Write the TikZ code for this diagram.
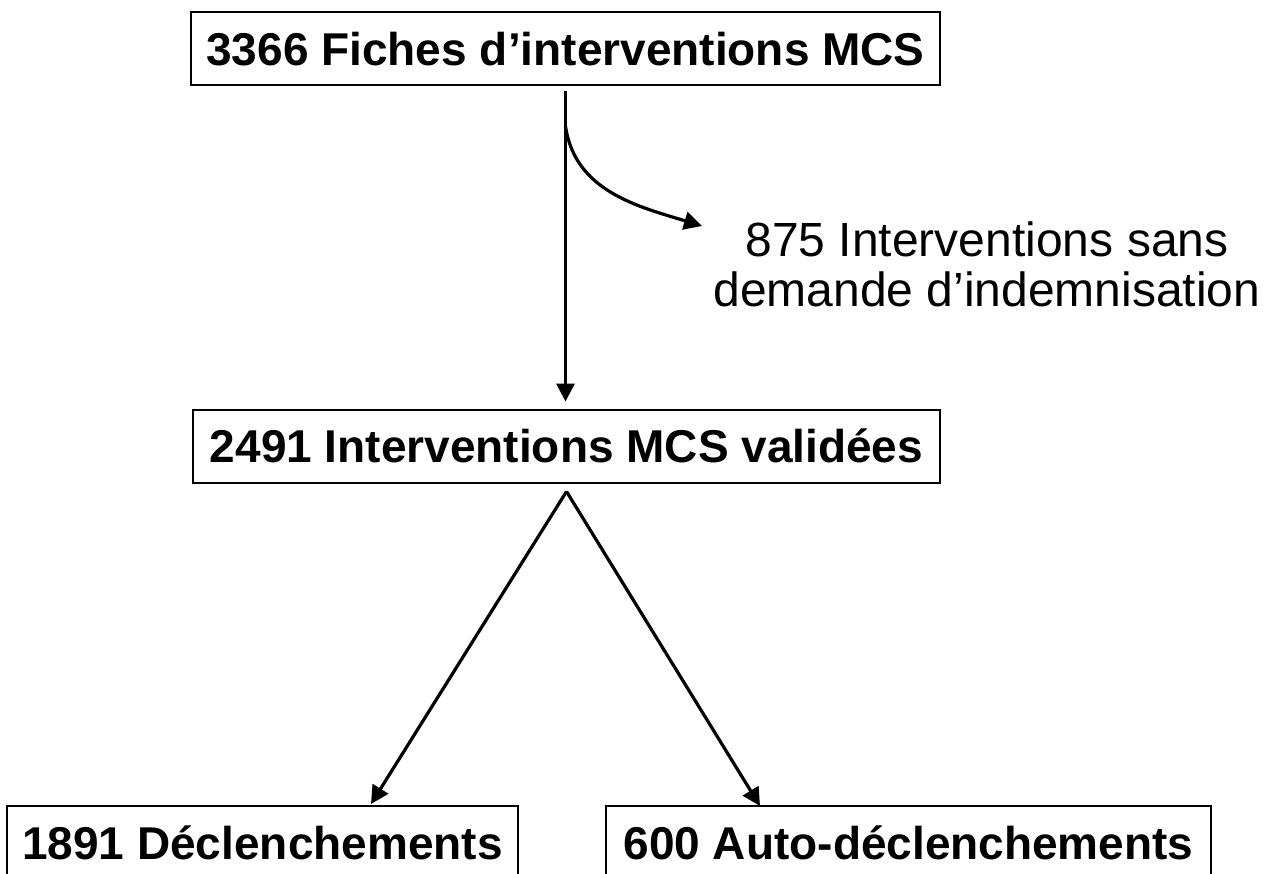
\documentclass[tikz,border=0pt]{standalone}
\usepackage{fontspec}
\setmainfont{Liberation Sans}
\usetikzlibrary{arrows.meta,calc}
\begin{document}
\begin{tikzpicture}[x=1pt,y=1pt,
  box/.style={draw,line width=1pt,inner sep=0pt,text height=16.5pt,text depth=0pt,
    font=\fontsize{23}{27}\selectfont\bfseries,minimum height=36.5pt},
  conn/.style={line width=1.6pt,-{Triangle[length=9pt,width=9pt]}},
  lbl/.style={align=center,font=\fontsize{24}{25}\selectfont,inner sep=0pt}]
\useasboundingbox (0,0) rectangle (637,-436.5);
\node[box,minimum width=374.5pt] (b1) at (282.75,-24.25) {3366 Fiches d’interventions MCS};
\node[box,minimum width=373.5pt] (b2) at (283.25,-223) {2491 Interventions MCS validées};
\node[box,minimum width=255.5pt] (b3) at (131.25,-421.25) {1891 Déclenchements};
\node[box,minimum width=302.5pt] (b4) at (454.25,-421.25) {600 Auto-déclenchements};
\node[lbl] (lab) at (493.5,-132) {875 Interventions sans\\demande d’indemnisation};
\coordinate (top) at ($(b1.south)+(0,-2.5)$);
\coordinate (bot) at ($(b2.north)+(0,3.5)$);
\coordinate (cs) at ($(b1.south)+(0,-20)$);
\coordinate (ce) at (351,-113);
\coordinate (apex) at ($(b2.south)+(0,-4)$);
\coordinate (t3) at (185.5,-402);
\coordinate (t4) at (380,-403);
\draw[conn] (top) -- (top |- bot);
\draw[conn] (cs) to[out=-82,in=163] (ce);
\draw[conn] (apex) -- (t3);
\draw[conn] (apex) -- (t4);
\end{tikzpicture}
\end{document}
